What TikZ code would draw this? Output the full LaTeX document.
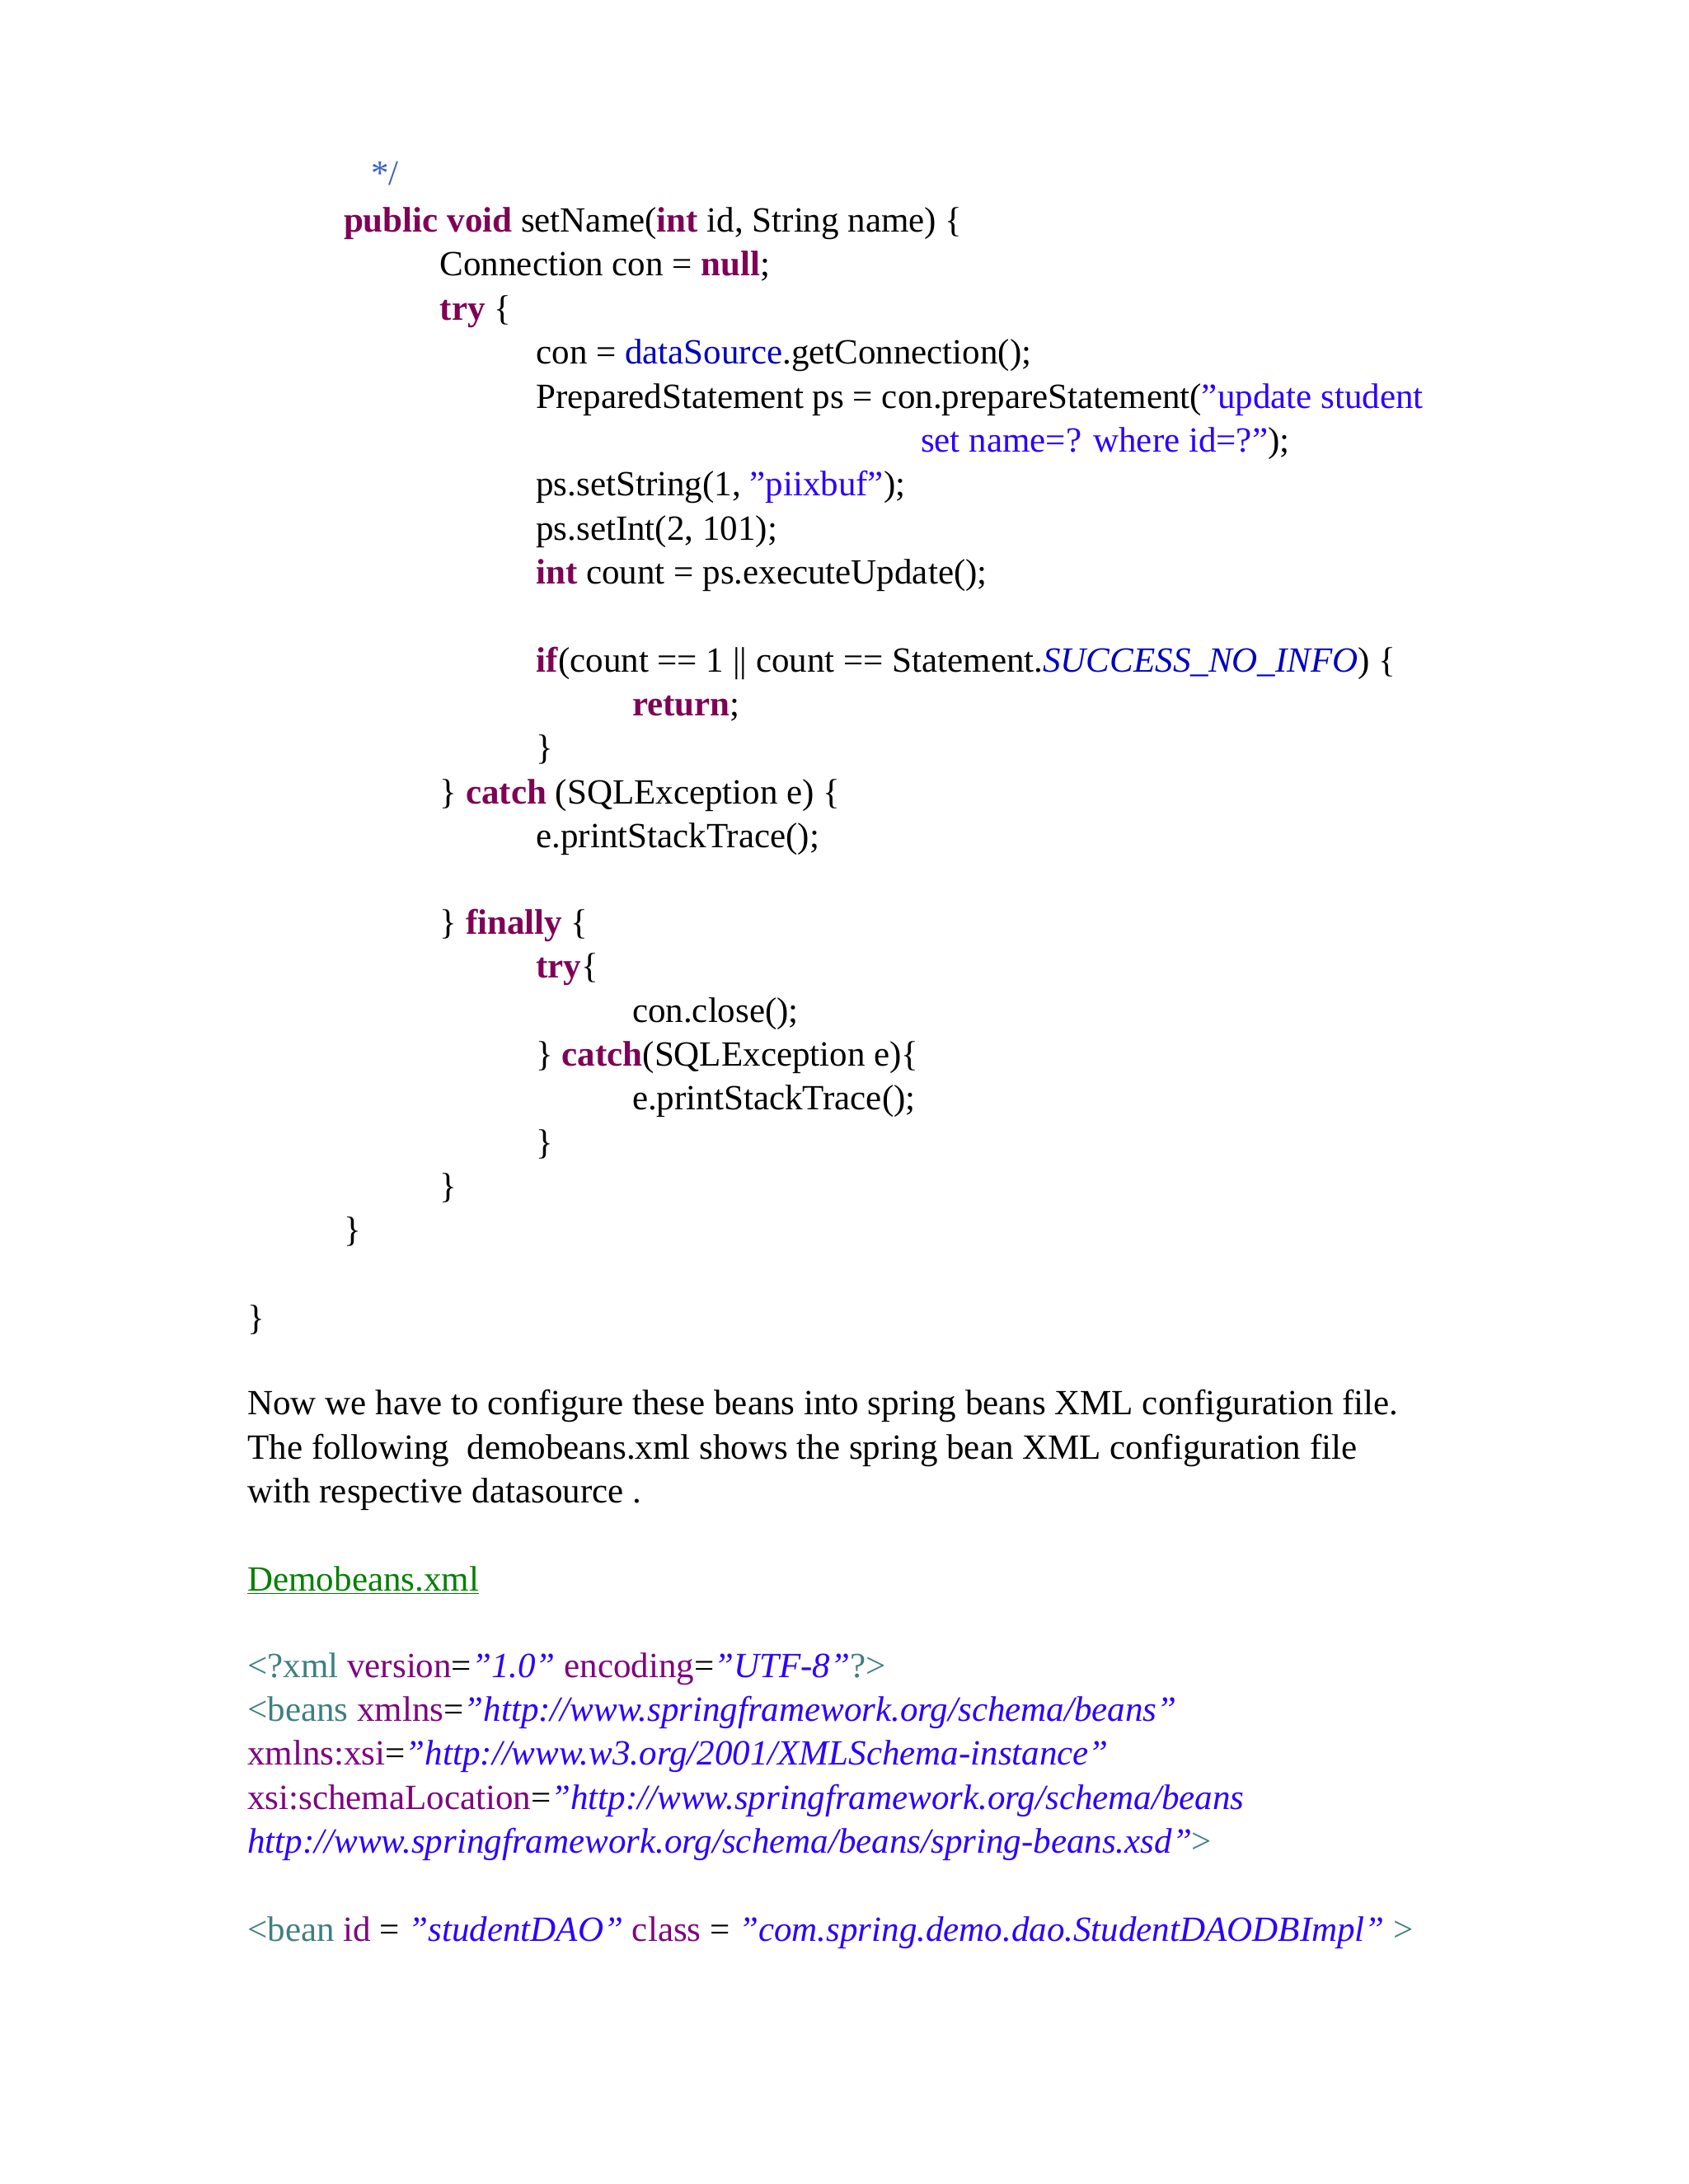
\documentclass[tikz,border=0pt]{standalone}
\usepackage{fontspec}
\setmainfont{Liberation Serif}
\definecolor{kw}{HTML}{7F0055}
\definecolor{str}{HTML}{2A00FF}
\definecolor{fld}{HTML}{0000C0}
\definecolor{cmt}{HTML}{3F5FBF}
\definecolor{tag}{HTML}{3F7F7F}
\definecolor{att}{HTML}{7F007F}
\definecolor{lnk}{HTML}{008000}
\newcommand{\kw}[1]{\textcolor{kw}{\textbf{#1}}}
\newcommand{\str}[1]{\textcolor{str}{#1}}
\newcommand{\tg}[1]{\textcolor{tag}{#1}}
\newcommand{\at}[1]{\textcolor{att}{#1}}
\newcommand{\av}[1]{\textcolor{str}{\textit{#1}}}
\begin{document}
\begin{tikzpicture}[x=0.8333pt,y=-0.8333pt,
  ln/.style={anchor=base west,inner sep=0pt,font=\fontsize{21.5}{26}\selectfont}]
\useasboundingbox (0,0) rectangle (1229,1590);
\def\o{8}
\node[ln] (a1) at (270,127+\o) {\textcolor{cmt}{*/}};
\node[ln] (a2) at (250,161+\o) {\kw{public void} setName(\kw{int} id, String name) \{};
\node[ln] (a3) at (320,193+\o) {Connection con = \kw{null};};
\node[ln] (a4) at (320,225+\o) {\kw{try} \{};
\node[ln] (a5) at (390,257+\o) {con = \textcolor{fld}{dataSource}.getConnection();};
\node[ln] (a6) at (390,289+\o) {PreparedStatement ps = con.prepareStatement(\str{"update student}};
\node[ln] (a7) at (670,321+\o) {\str{set name=? where id=?"});};
\node[ln] (a8) at (390,353+\o) {ps.setString(1, \str{"piixbuf"});};
\node[ln] (a9) at (390,385+\o) {ps.setInt(2, 101);};
\node[ln] (a10) at (390,417+\o) {\kw{int} count = ps.executeUpdate();};
\node[ln] (a11) at (390,481+\o) {\kw{if}(count == 1 || count == Statement.\textcolor{fld}{\textit{SUCCESS\_NO\_INFO}}) \{};
\node[ln] (a12) at (460,513+\o) {\kw{return};};
\node[ln] (a13) at (390,545+\o) {\}};
\node[ln] (a14) at (320,577+\o) {\} \kw{catch} (SQLException e) \{};
\node[ln] (a15) at (390,609+\o) {e.printStackTrace();};
\node[ln] (a16) at (320,672+\o) {\} \kw{finally} \{};
\node[ln] (a17) at (390,704+\o) {\kw{try}\{};
\node[ln] (a18) at (460,736+\o) {con.close();};
\node[ln] (a19) at (390,768+\o) {\} \kw{catch}(SQLException e)\{};
\node[ln] (a20) at (460,800+\o) {e.printStackTrace();};
\node[ln] (a21) at (390,832+\o) {\}};
\node[ln] (a22) at (320,864+\o) {\}};
\node[ln] (a23) at (250,896+\o) {\}};
\node[ln] (a24) at (180,960+\o) {\}};
\node[ln] (b1) at (180,1022+\o) {Now we have to configure these beans into spring beans XML configuration file.};
\node[ln] (b2) at (180,1054+\o) {The following\ \ demobeans.xml shows the spring bean XML configuration file};
\node[ln] (b3) at (180,1086+\o) {with respective datasource .};
\node[ln] (b4) at (180,1150+\o) {\textcolor{lnk}{\underline{Demobeans.xml}}};
\node[ln] (c1) at (180,1213+\o) {\tg{<?xml} \at{version}=\av{"1.0"} \at{encoding}=\av{"UTF-8"}\tg{?>}};
\node[ln] (c2) at (180,1245+\o) {\tg{<beans} \at{xmlns}=\av{"http://www.springframework.org/schema/beans"}};
\node[ln] (c3) at (180,1277+\o) {\at{xmlns:xsi}=\av{"http://www.w3.org/2001/XMLSchema-instance"}};
\node[ln] (c4) at (180,1309+\o) {\at{xsi:schemaLocation}=\av{"http://www.springframework.org/schema/beans}};
\node[ln] (c5) at (180,1341+\o) {\av{http://www.springframework.org/schema/beans/spring-beans.xsd"}\tg{>}};
\node[ln] (c6) at (180,1405+\o) {\tg{<bean} \at{id} = \av{"studentDAO"} \at{class} = \av{"com.spring.demo.dao.StudentDAODBImpl"} \tg{>}};
\end{tikzpicture}
\end{document}
